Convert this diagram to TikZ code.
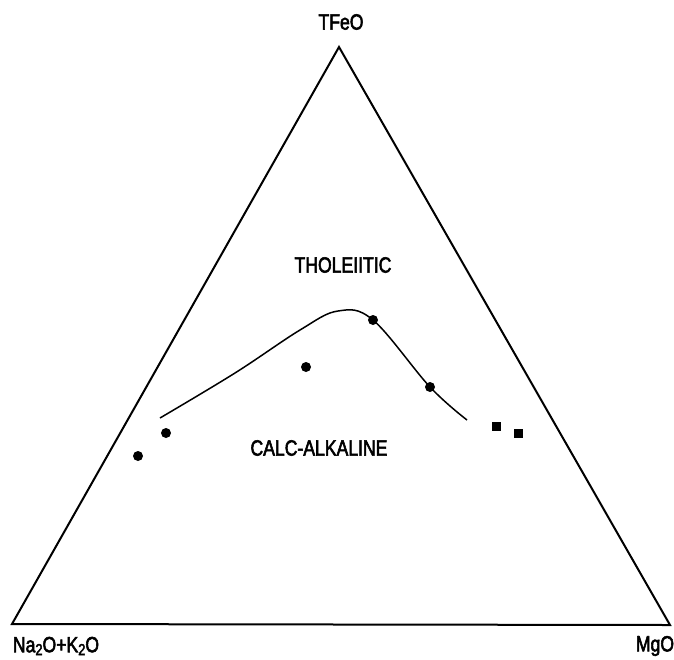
\documentclass[tikz,border=0pt]{standalone}
\usepackage{fontspec}
\newfontfamily\lblfont[FakeStretch=0.8,FakeBold=2.5]{Liberation Sans}

\begin{document}
\begin{tikzpicture}[x=0.5pt, y=-0.5pt,
    main/.style = {circle, fill, inner sep=0pt, minimum size=5pt},
    sq/.style = {rectangle, fill, inner sep=0pt, minimum size=4.5pt},
    lbl/.style = {font=\lblfont\fontsize{11}{12}\selectfont, inner sep=0pt}]
            \useasboundingbox (0,0) rectangle (674,659);

            \coordinate (A) at (339,47);
            \coordinate (B) at (12,624);
            \coordinate (C) at (670,625);
            \draw[line width=1pt, line join=miter] (A) -- (B) -- (C) -- cycle;

            \node[lbl] (t) at (341,22) {TFeO};
            \node[lbl] (n) at (56,646) {Na\raisebox{-0.25ex}{\fontsize{8}{9}\selectfont 2}O+K\raisebox{-0.25ex}{\fontsize{8}{9}\selectfont 2}O};
            \node[lbl] (m) at (655,646) {MgO};

            \node[lbl] (th) at (343,265) {THOLEIITIC};
            \node[lbl] (ca) at (319,448) {CALC-ALKALINE};

            \draw[line width=0.75pt] plot[smooth, tension=0.6] coordinates
                {(160,418) (235,373) (300,330) (338,311) (373,320) (430,387) (467,420)};

            \node[main] (1) at (138,456) {};
            \node[main] (2) at (166,433) {};
            \node[main] (3) at (306,367) {};
            \node[main] (4) at (373,320) {};
            \node[main] (5) at (430,387) {};
            \node[sq] (6) at (496,426) {};
            \node[sq] (7) at (518,433) {};

        \end{tikzpicture}
\end{document}
